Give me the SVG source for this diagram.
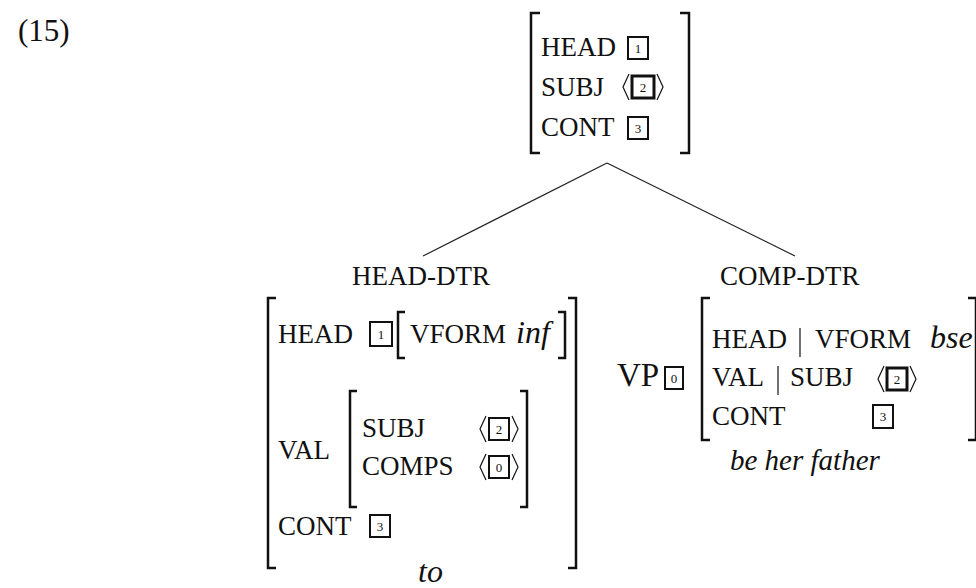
<svg xmlns="http://www.w3.org/2000/svg" width="976" height="588" viewBox="0 0 976 588">
<style>
.t{font-family:"Liberation Serif","Times New Roman",serif;font-size:27px;fill:#111}
.i{font-style:italic;font-size:32px}
.vp{font-size:33px}
.n{font-family:"Liberation Serif","Times New Roman",serif;font-size:13px;fill:#111;text-anchor:middle}
.br{fill:none;stroke:#111;stroke-width:2.5}
.bx{fill:none;stroke:#111;stroke-width:2}
.bx3{fill:none;stroke:#111;stroke-width:3}
.ang{fill:none;stroke:#111;stroke-width:1.2}
.bar{stroke:#111;stroke-width:1.2}
.ln{stroke:#222;stroke-width:1.2;fill:none}
</style>
<rect width="976" height="588" fill="#fff"/>
<text class="t" x="18" y="41" style="font-size:31px">(15)</text>

<g id="connectors">
<line class="ln" x1="607" y1="163" x2="423" y2="256"/>
<line class="ln" x1="607" y1="163" x2="795" y2="256"/>
</g>

<g id="mother">
<path class="br" d="M540,13 H531 V153 H540"/>
<path class="br" d="M680,13 H689 V153 H680"/>
<text class="t" x="541" y="56">HEAD</text>
<rect class="bx" x="628" y="37" width="20" height="22"/><text class="n" x="638" y="53">1</text>
<text class="t" x="541" y="96">SUBJ</text>
<polyline class="ang" points="629,74 623,87 629,100"/>
<rect class="bx3" x="632" y="76" width="22" height="22"/><text class="n" x="643" y="92">2</text>
<polyline class="ang" points="657,74 663,87 657,100"/>
<text class="t" x="541" y="136">CONT</text>
<rect class="bx" x="628" y="117" width="20" height="22"/><text class="n" x="638" y="133">3</text>
</g>

<g id="head-dtr">
<text class="t" x="352" y="285">HEAD-DTR</text>
<path class="br" d="M276,298 H268 V568 H276"/>
<path class="br" d="M568,298 H576 V568 H568"/>
<text class="t" x="278" y="343">HEAD</text>
<rect class="bx" x="370" y="322" width="22" height="24"/><text class="n" x="381" y="339">1</text>
<path class="br" d="M405,312 H398 V358 H405"/>
<path class="br" d="M558,312 H565 V358 H558"/>
<text class="t" x="410" y="343">VFORM</text>
<text class="t i" x="516" y="343">inf</text>
<text class="t" x="278" y="459">VAL</text>
<path class="br" d="M357,391 H350 V507 H357"/>
<path class="br" d="M520,391 H527 V507 H520"/>
<text class="t" x="362" y="437">SUBJ</text>
<polyline class="ang" points="486,416 480,429 486,442"/>
<rect class="bx" x="489" y="418" width="20" height="22"/><text class="n" x="499" y="434">2</text>
<polyline class="ang" points="512,416 518,429 512,442"/>
<text class="t" x="362" y="475">COMPS</text>
<polyline class="ang" points="486,454 480,467 486,480"/>
<rect class="bx" x="489" y="456" width="20" height="22"/><text class="n" x="499" y="472">0</text>
<polyline class="ang" points="512,454 518,467 512,480"/>
<text class="t" x="278" y="535">CONT</text>
<rect class="bx" x="370" y="515" width="20" height="22"/><text class="n" x="380" y="531">3</text>
<text class="t i" x="418" y="582">to</text>
</g>

<g id="comp-dtr">
<text class="t" x="720" y="285">COMP-DTR</text>
<text class="t vp" x="617" y="386">VP</text>
<rect class="bx" x="665" y="367" width="18" height="22"/><text class="n" x="674" y="383">0</text>
<path class="br" d="M710,298 H702 V440 H710"/>
<path class="br" d="M968,298 H976 V440 H968"/>
<text class="t" x="712" y="348">HEAD</text>
<line class="bar" x1="800" y1="328" x2="800" y2="357"/>
<text class="t" x="815" y="348">VFORM</text>
<text class="t i" x="930" y="348">bse</text>
<text class="t" x="712" y="386">VAL</text>
<line class="bar" x1="778" y1="366" x2="778" y2="395"/>
<text class="t" x="790" y="386">SUBJ</text>
<polyline class="ang" points="884,366 878,379 884,392"/>
<rect class="bx3" x="887" y="368" width="20" height="22"/><text class="n" x="897" y="384">2</text>
<polyline class="ang" points="910,366 916,379 910,392"/>
<text class="t" x="712" y="425">CONT</text>
<rect class="bx" x="873" y="405" width="20" height="23"/><text class="n" x="883" y="421">3</text>
<text class="t i" x="730" y="470" style="font-size:29px">be her father</text>
</g>
</svg>
